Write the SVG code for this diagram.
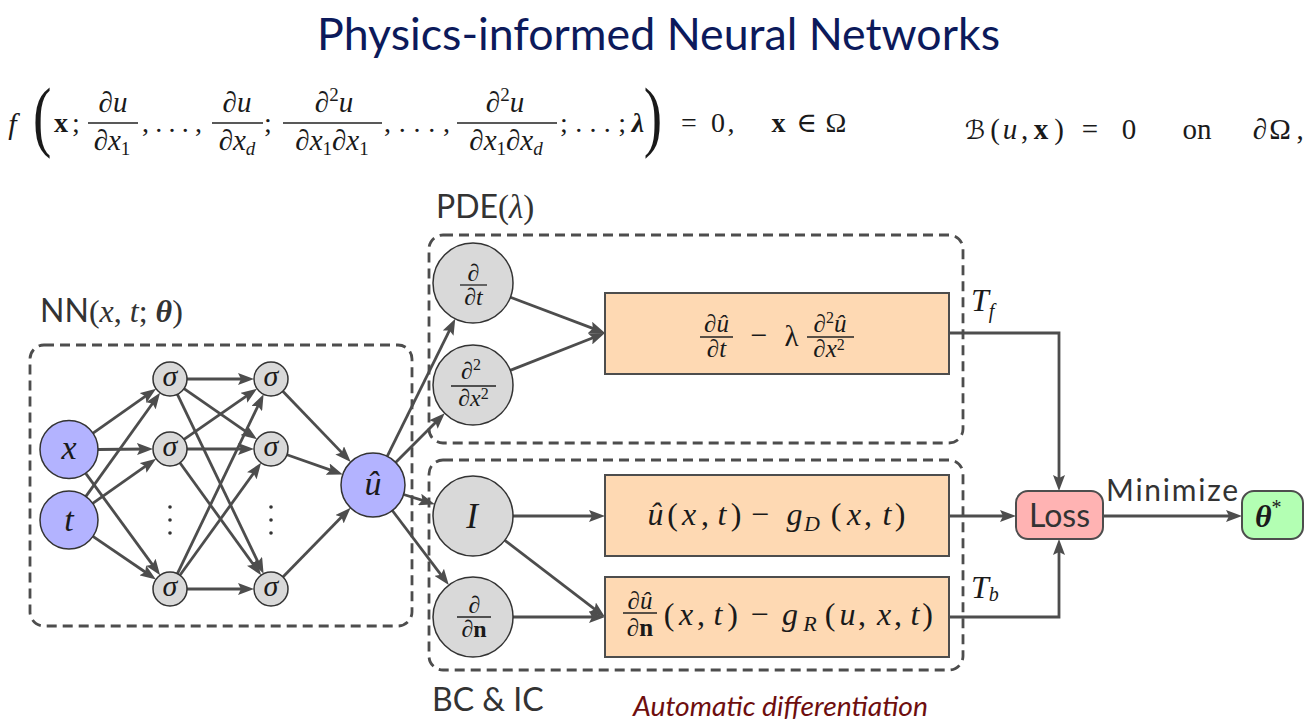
<svg xmlns="http://www.w3.org/2000/svg" width="1311" height="726" viewBox="0 0 1311 726">
<defs>
<style>
.edge{stroke:#4d4d4d;stroke-width:2.8;fill:none;marker-end:url(#arr)}
.dash{fill:none;stroke:#4d4d4d;stroke-width:2.8;stroke-dasharray:10 6}
.inp{fill:#b3b3ff;stroke:#333;stroke-width:1.5}
.hid{fill:#d9d9d9;stroke:#333;stroke-width:1.5}
.box{fill:#fed9b3;stroke:#4d4d4d;stroke-width:2}
.bar{stroke:#222;stroke-width:1.3}
.m{font-family:"Liberation Serif","DejaVu Serif",serif;fill:#1a1a1a}
.m text{text-anchor:middle}
.i{font-style:italic}
.b{font-weight:bold}
.c{text-anchor:middle}
.sans{font-family:Lato,"Open Sans","Liberation Sans",sans-serif;fill:#333}
</style>
<marker id="arr" viewBox="0 0 16 12" refX="10" refY="6" markerWidth="16" markerHeight="12" markerUnits="userSpaceOnUse" orient="auto">
<path d="M0,0 L16,6 L0,12 L3,6 z" fill="#4d4d4d"/>
</marker>
</defs>
<rect width="1311" height="726" fill="#fff"/>

<text id="title" x="317" y="50" font-family="Lato,'Open Sans',sans-serif" font-size="44" fill="#0c1a5b" textLength="683" lengthAdjust="spacingAndGlyphs">Physics-informed Neural Networks</text>

<g id="equation-left" class="m" font-size="28">
<text x="12.5" y="134" class="i" font-size="30">f</text>
<text transform="translate(33,0) scale(1.15,1.65)" x="8" y="86" font-size="48">(</text>
<text x="61" y="132" class="b">x</text>
<text x="76" y="132">;</text>
<text x="113" y="112" font-size="29">∂<tspan class="i">u</tspan></text>
<line class="bar" x1="88" y1="123" x2="138" y2="123"/>
<text x="112" y="150" font-size="29">∂<tspan class="i">x</tspan><tspan font-size="19" dy="5">1</tspan></text>
<text x="172" y="132" textLength="60" lengthAdjust="spacing">, . . . ,</text>
<text x="237" y="112" font-size="29">∂<tspan class="i">u</tspan></text>
<line class="bar" x1="212" y1="123" x2="263" y2="123"/>
<text x="237" y="150" font-size="29">∂<tspan class="i">x</tspan><tspan font-size="19" dy="5" class="i">d</tspan></text>
<text x="268" y="132">;</text>
<text x="334" y="112" font-size="29">∂<tspan font-size="19" dy="-11">2</tspan><tspan class="i" dy="11">u</tspan></text>
<line class="bar" x1="283" y1="123" x2="382" y2="123"/>
<text x="332" y="150" font-size="29">∂<tspan class="i">x</tspan><tspan font-size="19" dy="5">1</tspan><tspan dy="-5">∂</tspan><tspan class="i">x</tspan><tspan font-size="19" dy="5">1</tspan></text>
<text x="417" y="132" textLength="66" lengthAdjust="spacing">, . . . ,</text>
<text x="505" y="112" font-size="29">∂<tspan font-size="19" dy="-11">2</tspan><tspan class="i" dy="11">u</tspan></text>
<line class="bar" x1="457" y1="123" x2="557" y2="123"/>
<text x="506" y="150" font-size="29">∂<tspan class="i">x</tspan><tspan font-size="19" dy="5">1</tspan><tspan dy="-5">∂</tspan><tspan class="i">x</tspan><tspan font-size="19" dy="5" class="i">d</tspan></text>
<text x="593" y="132" textLength="66" lengthAdjust="spacing">; . . . ;</text>
<text x="638" y="132" class="b i">λ</text>
<text transform="translate(646,0) scale(1.15,1.65)" x="6" y="86" font-size="48">)</text>
<text x="689" y="132">=</text>
<text x="718" y="132">0</text>
<text x="731" y="132">,</text>
<text x="778.5" y="132" class="b">x</text>
<text x="806.5" y="132">∈</text>
<text x="836" y="132">Ω</text>
</g>

<g id="equation-right" class="m" font-size="29">
<text x="975" y="139" font-family="'DejaVu Serif','DejaVu Sans',serif" font-style="italic" font-size="26">ℬ</text>
<text x="995" y="139">(</text>
<text x="1010" y="139" class="i">u</text>
<text x="1024.5" y="139">,</text>
<text x="1041" y="139" class="b">x</text>
<text x="1059" y="139">)</text>
<text x="1090" y="139">=</text>
<text x="1129" y="139">0</text>
<text x="1197" y="139">on</text>
<text x="1260" y="139">∂</text>
<text x="1280" y="139">Ω</text>
<text x="1300" y="139">,</text>
</g>

<g id="groups">
<rect id="nn-box" class="dash" x="30" y="345" width="382" height="281" rx="14"/>
<rect id="pde-box" class="dash" x="429" y="235" width="534" height="208" rx="14"/>
<rect id="bc-box" class="dash" x="429" y="460" width="534" height="210" rx="14"/>
<text id="nn-label" x="40" y="322" class="sans" font-size="32">NN<tspan font-family="'Liberation Serif',serif" font-size="32">(<tspan class="i">x</tspan>, <tspan class="i">t</tspan>; <tspan class="b i">θ</tspan>)</tspan></text>
<text id="pde-label" x="436" y="218" class="sans" font-size="32">PDE<tspan font-family="'Liberation Serif',serif" font-size="33">(<tspan class="i">λ</tspan>)</tspan></text>
<text id="bc-label" x="432" y="711" class="sans" font-size="32">BC &amp; IC</text>
<text id="ad-label" x="633" y="716" font-family="Lato,'Open Sans',sans-serif" font-style="italic" font-size="27" fill="#6e0e0e" textLength="295" lengthAdjust="spacingAndGlyphs">Automatic differentiation</text>
</g>

<g id="connectors">
<line class="edge" x1="92.7" y1="433.3" x2="151.2" y2="392.2"/>
<line class="edge" x1="98" y1="449.5" x2="147" y2="449"/>
<line class="edge" x1="85.9" y1="473.6" x2="156.6" y2="570.3"/>
<line class="edge" x1="85.9" y1="496.4" x2="156.6" y2="397.7"/>
<line class="edge" x1="92.7" y1="503.3" x2="151.2" y2="462.2"/>
<line class="edge" x1="92.9" y1="536.4" x2="151.0" y2="576.0"/>
<line class="edge" x1="187" y1="379" x2="248" y2="379"/>
<line class="edge" x1="184.0" y1="388.7" x2="252.1" y2="435.9"/>
<line class="edge" x1="177.4" y1="394.3" x2="261.0" y2="568.3"/>
<line class="edge" x1="184.0" y1="439.3" x2="252.1" y2="392.1"/>
<line class="edge" x1="187" y1="449" x2="248" y2="449"/>
<line class="edge" x1="179.9" y1="462.8" x2="257.6" y2="570.3"/>
<line class="edge" x1="177.4" y1="573.7" x2="261.0" y2="399.7"/>
<line class="edge" x1="179.9" y1="575.2" x2="257.6" y2="467.7"/>
<line class="edge" x1="187" y1="589" x2="248" y2="589"/>
<line class="edge" x1="282.8" y1="391.3" x2="346.6" y2="457.6"/>
<line class="edge" x1="287.0" y1="454.7" x2="337.1" y2="472.4"/>
<line class="edge" x1="282.9" y1="576.9" x2="346.4" y2="512.1"/>
<line class="edge" x1="387.2" y1="456.3" x2="452.6" y2="324.2"/>
<line class="edge" x1="395.6" y1="462.4" x2="440.5" y2="417.5"/>
<line class="edge" x1="403.6" y1="494.5" x2="429.1" y2="502.4"/>
<line class="edge" x1="392.3" y1="510.5" x2="445.2" y2="580.3"/>
<line class="edge" x1="510.4" y1="297.2" x2="599.4" y2="330.9"/>
<line class="edge" x1="510.2" y1="370.4" x2="599.4" y2="335.2"/>
<line class="edge" x1="513" y1="516" x2="599" y2="516"/>
<line class="edge" x1="504.8" y1="540.3" x2="600.2" y2="613.4"/>
<line class="edge" x1="513" y1="617" x2="599" y2="617"/>
<path class="edge" d="M949,333 H1059 V485"/>
<path class="edge" d="M949,516 H1010"/>
<path class="edge" d="M949,617 H1059 V545"/>
<path class="edge" d="M1103,516 H1236"/>
</g>

<g id="node-x"><circle class="inp" cx="69" cy="449.5" r="29"/><text class="m i c" x="69" y="459" font-size="34">x</text></g>
<g id="node-t"><circle class="inp" cx="69" cy="520" r="29"/><text class="m i c" x="69" y="531" font-size="34">t</text></g>

<g id="node-h1a"><circle class="hid" cx="170" cy="379" r="17"/><text class="m i c" x="170" y="386" font-size="30">σ</text></g>
<g id="node-h1b"><circle class="hid" cx="170" cy="449" r="17"/><text class="m i c" x="170" y="456" font-size="30">σ</text></g>
<g id="node-h1c"><circle class="hid" cx="170" cy="589" r="17"/><text class="m i c" x="170" y="596" font-size="30">σ</text></g>
<g id="dots-1" fill="#333"><circle cx="170" cy="507" r="1.8"/><circle cx="170" cy="520" r="1.8"/><circle cx="170" cy="533" r="1.8"/></g>
<g id="node-h2a"><circle class="hid" cx="271" cy="379" r="17"/><text class="m i c" x="271" y="386" font-size="30">σ</text></g>
<g id="node-h2b"><circle class="hid" cx="271" cy="449" r="17"/><text class="m i c" x="271" y="456" font-size="30">σ</text></g>
<g id="node-h2c"><circle class="hid" cx="271" cy="589" r="17"/><text class="m i c" x="271" y="596" font-size="30">σ</text></g>
<g id="dots-2" fill="#333"><circle cx="271" cy="507" r="1.8"/><circle cx="271" cy="520" r="1.8"/><circle cx="271" cy="533" r="1.8"/></g>

<g id="node-u"><circle class="inp" cx="373" cy="485" r="32"/><text class="m i c" x="373" y="495" font-size="34">û</text></g>

<g id="node-dt" class="m" font-size="24"><circle class="hid" cx="473" cy="283" r="40"/>
<text x="473.5" y="281">∂</text>
<line class="bar" x1="460" y1="285" x2="487" y2="285"/>
<text x="473.5" y="305">∂<tspan class="i">t</tspan></text></g>

<g id="node-dxx" class="m" font-size="24"><circle class="hid" cx="473" cy="385" r="40"/>
<text x="471" y="379">∂<tspan font-size="16" dy="-9">2</tspan></text>
<line class="bar" x1="451" y1="386" x2="496" y2="386"/>
<text x="473.5" y="406">∂<tspan class="i">x</tspan><tspan font-size="16" dy="-7">2</tspan></text></g>

<g id="node-i"><circle class="hid" cx="473" cy="516" r="40"/><text class="m i c" x="472" y="528" font-size="35">I</text></g>

<g id="node-dn" class="m" font-size="24"><circle class="hid" cx="473" cy="617" r="40"/>
<text x="474.5" y="613">∂</text>
<line class="bar" x1="457" y1="617" x2="491" y2="617"/>
<text x="474" y="637">∂<tspan class="b">n</tspan></text></g>

<g id="box-pde" class="m" font-size="25"><rect class="box" x="605" y="293" width="344" height="81"/>
<text x="716.5" y="332">∂<tspan class="i">û</tspan></text>
<line class="bar" x1="700" y1="337" x2="733" y2="337"/>
<text x="716.5" y="357">∂<tspan class="i">t</tspan></text>
<text x="759" y="345" font-size="30">−</text>
<text x="791.5" y="346" font-size="29">λ</text>
<text x="830" y="332">∂<tspan font-size="16" dy="-9">2</tspan><tspan class="i" dy="9">û</tspan></text>
<line class="bar" x1="807" y1="337" x2="854" y2="337"/>
<text x="829" y="357">∂<tspan class="i">x</tspan><tspan font-size="16" dy="-7">2</tspan></text></g>

<g id="box-dirichlet" class="m" font-size="32"><rect class="box" x="605" y="475" width="344" height="81"/>
<text x="655.5" y="525" class="i">û</text>
<text x="672.5" y="525">(</text>
<text x="689" y="525" class="i">x</text>
<text x="705" y="525">,</text>
<text x="722" y="525" class="i">t</text>
<text x="736" y="525">)</text>
<text x="760" y="525">−</text>
<text x="794.5" y="525" class="i">g</text>
<text x="812" y="531" class="i" font-size="22">D</text>
<text x="836" y="525">(</text>
<text x="854" y="525" class="i">x</text>
<text x="868" y="525">,</text>
<text x="887" y="525" class="i">t</text>
<text x="900" y="525">)</text>
</g>

<g id="box-robin" class="m" font-size="32"><rect class="box" x="605" y="577" width="344" height="80"/>
<text x="640" y="609" font-size="25">∂<tspan class="i">û</tspan></text>
<line class="bar" x1="623" y1="613" x2="657" y2="613"/>
<text x="640" y="636" font-size="25">∂<tspan class="b">n</tspan></text>
<text x="669" y="625">(</text>
<text x="686" y="625" class="i">x</text>
<text x="701" y="625">,</text>
<text x="718" y="625" class="i">t</text>
<text x="732.5" y="625">)</text>
<text x="759.5" y="625">−</text>
<text x="790" y="625" class="i">g</text>
<text x="810" y="631" class="i" font-size="22">R</text>
<text x="830" y="625">(</text>
<text x="847.5" y="625" class="i">u</text>
<text x="862" y="625">,</text>
<text x="884" y="625" class="i">x</text>
<text x="898" y="625">,</text>
<text x="915" y="625" class="i">t</text>
<text x="927.5" y="625">)</text>
</g>

<g id="label-tf"><text class="m i" x="971" y="311" font-size="32">T<tspan font-size="20" dy="7">f</tspan></text></g>
<g id="label-tb"><text class="m i" x="971" y="598" font-size="32">T<tspan font-size="20" dy="3">b</tspan></text></g>

<g id="node-loss"><rect x="1016" y="491" width="87" height="48" rx="12" fill="#ffb3b3" stroke="#4d4d4d" stroke-width="2"/>
<text class="sans c" x="1059.5" y="527" font-size="32">Loss</text></g>
<text id="minimize-label" class="sans" x="1106" y="501" font-size="30" textLength="132" lengthAdjust="spacing">Minimize</text>
<g id="node-theta"><rect x="1242" y="491" width="61" height="48" rx="12" fill="#b3ffb3" stroke="#4d4d4d" stroke-width="2"/>
<text class="m" x="1255" y="527" font-size="32"><tspan class="b i">θ</tspan><tspan font-size="20" dy="-13">*</tspan></text></g>
</svg>
